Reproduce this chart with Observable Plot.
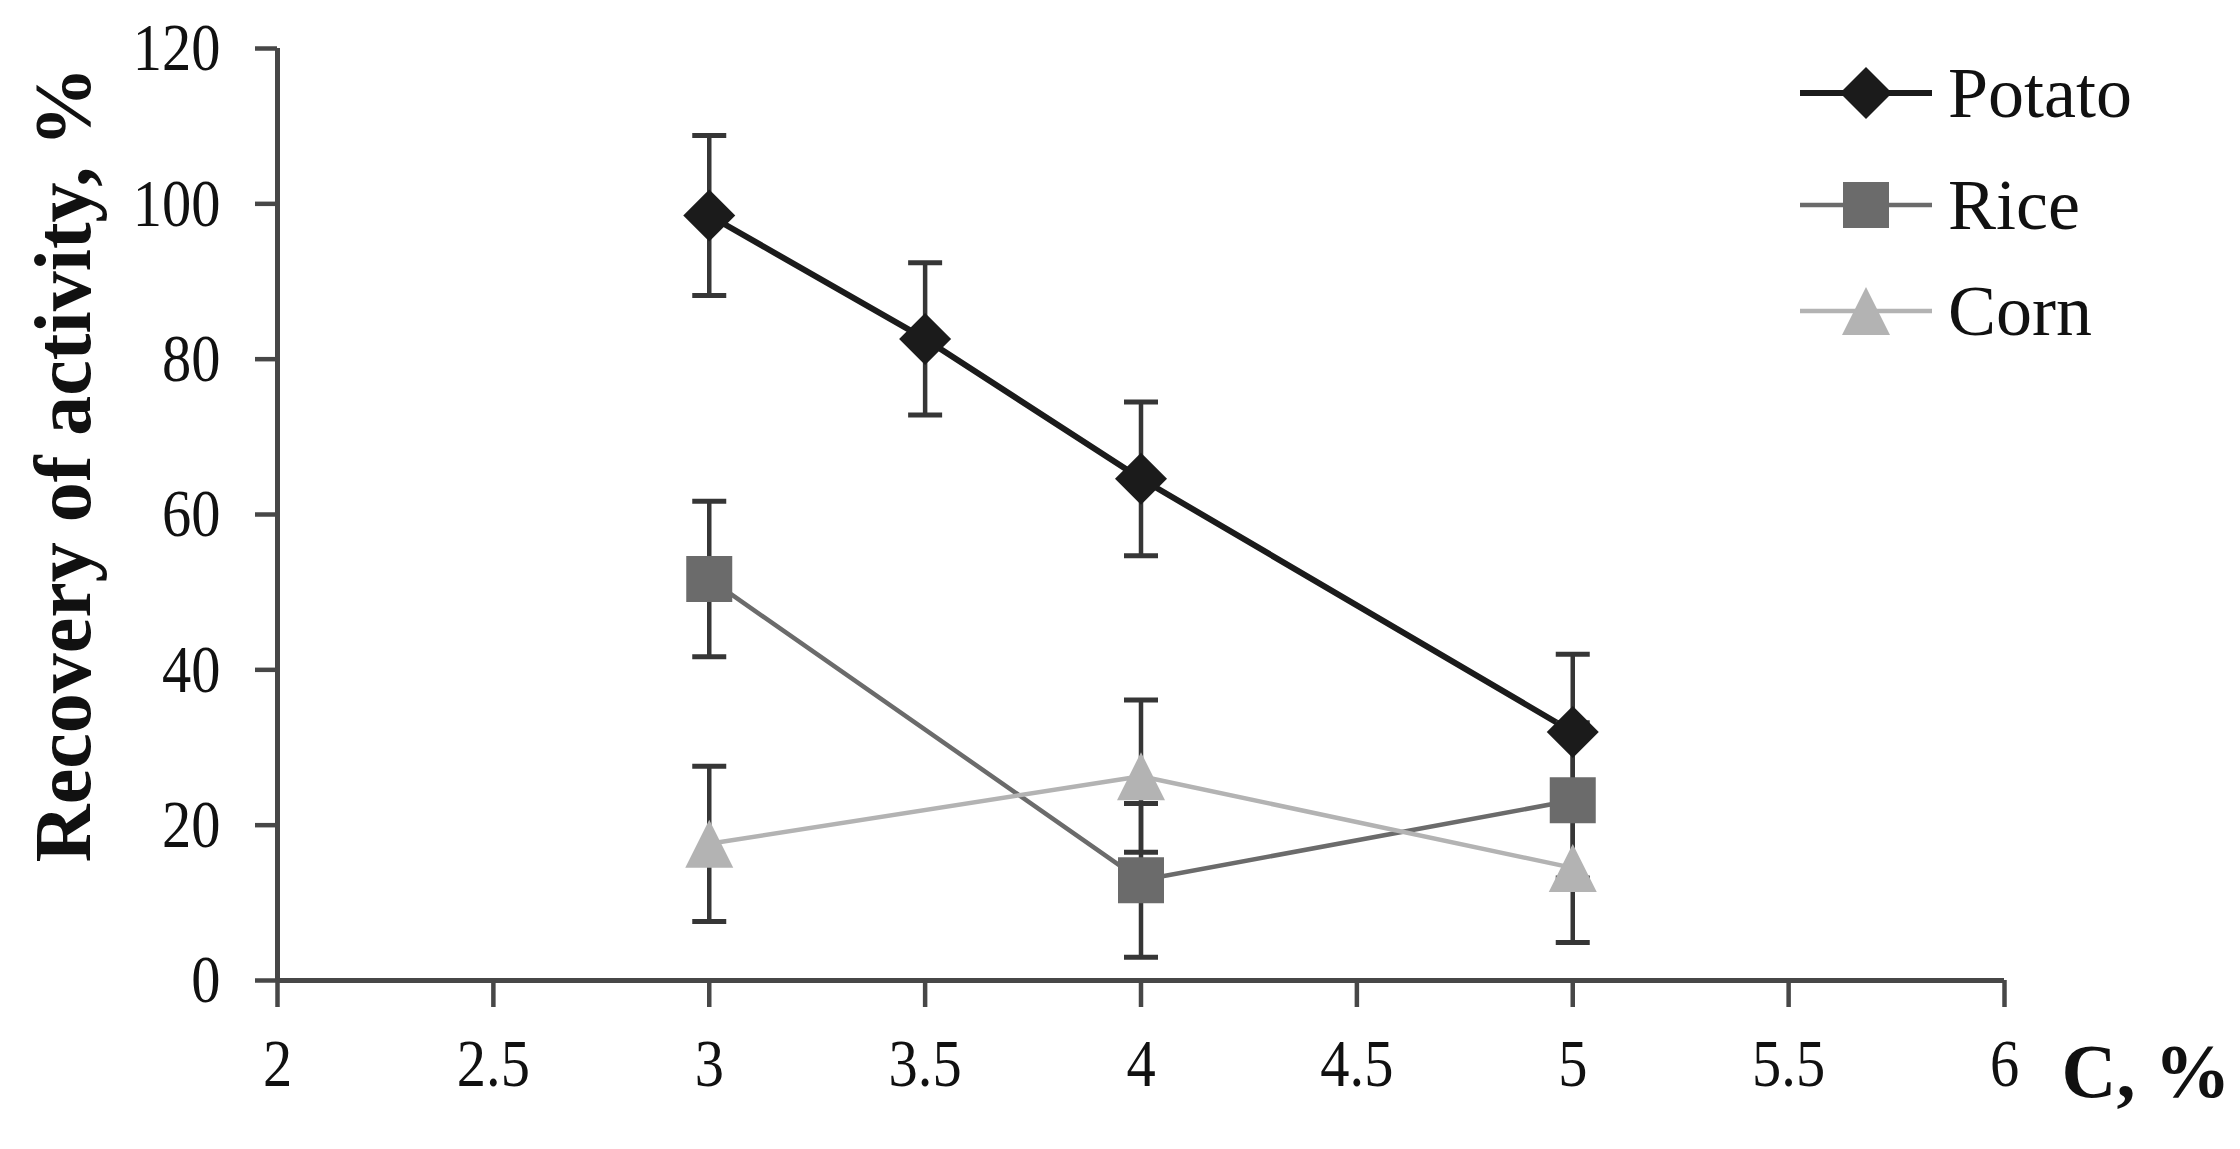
<!DOCTYPE html>
<html>
<head>
<meta charset="utf-8">
<script src="https://cdn.jsdelivr.net/npm/d3@7"></script>
<script src="https://cdn.jsdelivr.net/npm/@observablehq/plot@0.6"></script>
<style>
  html, body { margin: 0; padding: 0; background: #fff; }
  #wrap { position: relative; width: 2240px; height: 1149px; overflow: hidden; }
  #legend { position: absolutely; position: absolute; left: 1800px; top: 43px; font-family: "Liberation Serif", serif; font-size: 72px; color: #111; }
  .lg-row { position: absolute; left: 0; height: 100px; display: flex; align-items: center; white-space: nowrap; }
  .lg-row svg { display: block; }
  .lg-row span { margin-left: 14px; line-height: 1; }
</style>
</head>
<body>
<div id="wrap">
  <div id="chart"></div>
  <div id="legend"></div>
</div>
<script>
// ---- data ----
const xTicks = [2, 2.5, 3, 3.5, 4, 4.5, 5, 5.5, 6];
const yTicks = [0, 20, 40, 60, 80, 100, 120];
const xLabel = "C, %";
const yLabel = "Recovery of activity, %";

const seriesNames = ["Potato", "Rice", "Corn"];
const seriesColors = ["#1b1b1b", "#6b6b6b", "#b3b3b3"];
const seriesWidths = [6, 4.5, 4.5];
const seriesSymbols = ["diamond", "square", "triangle"];

const potatoC = [3, 3.5, 4, 5];
const potatoVal = [98.5, 82.6, 64.6, 32.0];
const potatoErr = [10.3, 9.8, 9.9, 10.0];

const riceC = [3, 4, 5];
const riceVal = [51.7, 12.9, 23.2];
const riceErr = [10.0, 9.9, 10.0];

const cornC = [3, 4, 5];
const cornVal = [17.6, 26.3, 14.5];
const cornErr = [10.0, 9.8, 9.6];

// ---- build tables ----
function rowsFor(name, cs, vs, es) {
  return cs.map((c, i) => ({series: name, c, v: vs[i], e: es[i]}));
}
const seriesRows = [
  rowsFor("Potato", potatoC, potatoVal, potatoErr),
  rowsFor("Rice", riceC, riceVal, riceErr),
  rowsFor("Corn", cornC, cornVal, cornErr)
];
const allRows = seriesRows.flat();

// ---- custom symbols ----
const symbolDefs = {
  diamond: {draw(ctx, size) { const h = Math.sqrt(size / Math.PI); ctx.moveTo(0, -h); ctx.lineTo(h, 0); ctx.lineTo(0, h); ctx.lineTo(-h, 0); ctx.closePath(); }},
  square: {draw(ctx, size) { const h = Math.sqrt(size / Math.PI); ctx.rect(-h, -h, 2 * h, 2 * h); }},
  triangle: {draw(ctx, size) { const h = Math.sqrt(size / Math.PI); ctx.moveTo(0, -h); ctx.lineTo(h, h); ctx.lineTo(-h, h); ctx.closePath(); }},
  cap: {draw(ctx, size) { const h = Math.sqrt(size / Math.PI); ctx.moveTo(-h, 0); ctx.lineTo(h, 0); }}
};
const markerR = {diamond: 26, square: 23, triangle: 24};

const axisColor = "#474747";
const errColor = "#363636";

const marks = [
  Plot.ruleY([0], {stroke: axisColor, strokeWidth: 5}),
  Plot.ruleX([2], {stroke: axisColor, strokeWidth: 5}),
  Plot.axisX({ticks: xTicks, tickFormat: d => String(d), tickSize: 27, tickPadding: 30, stroke: axisColor, strokeWidth: 4.5, fontSize: 68, fill: "#111", label: null}),
  Plot.axisY({ticks: yTicks, tickFormat: d => String(d), tickSize: 22, tickPadding: 35, stroke: axisColor, strokeWidth: 4.5, fontSize: 68, fill: "#111", label: null})
];

seriesRows.forEach((rows, i) => {
  marks.push(Plot.line(rows, {x: "c", y: "v", stroke: seriesColors[i], strokeWidth: seriesWidths[i]}));
});

marks.push(Plot.ruleX(allRows, {x: "c", y1: d => d.v - d.e, y2: d => d.v + d.e, stroke: errColor, strokeWidth: 4.5}));
marks.push(Plot.dot(allRows, {x: "c", y: d => d.v + d.e, symbol: symbolDefs.cap, r: 17, stroke: errColor, strokeWidth: 5, fill: "none"}));
marks.push(Plot.dot(allRows, {x: "c", y: d => d.v - d.e, symbol: symbolDefs.cap, r: 17, stroke: errColor, strokeWidth: 5, fill: "none"}));

seriesRows.forEach((rows, i) => {
  const s = seriesSymbols[i];
  marks.push(Plot.dot(rows, {x: "c", y: "v", symbol: symbolDefs[s], r: markerR[s], fill: seriesColors[i], stroke: "none"}));
});

marks.push(Plot.text([yLabel], {text: d => d, frameAnchor: "left", textAnchor: "middle", rotate: -90, dx: -213, dy: -50, fontSize: 80, fontWeight: "bold", fill: "#111"}));
marks.push(Plot.text([xLabel], {text: d => d, frameAnchor: "bottom-right", textAnchor: "start", dx: 57, dy: 116, fontSize: 76, fontWeight: "bold", fill: "#111"}));

const chart = Plot.plot({
  width: 2240,
  height: 1149,
  marginLeft: 277,
  marginRight: 236,
  marginTop: 48,
  marginBottom: 169,
  x: {domain: [2, 6]},
  y: {domain: [0, 120]},
  style: {fontFamily: "'Liberation Serif', 'Times New Roman', serif", background: "#fff", color: "#111", overflow: "visible"},
  marks
});
document.getElementById("chart").appendChild(chart);

// condense tick labels like the original
chart.querySelectorAll('g[aria-label="x-axis tick label"] text, g[aria-label="y-axis tick label"] text').forEach(t => {
  const tr = t.getAttribute("transform") || "";
  t.setAttribute("transform", tr + " scale(0.86,1)");
});

// ---- legend ----
const legend = document.getElementById("legend");
const legendTops = [0, 112, 218];
seriesNames.forEach((name, i) => {
  const row = document.createElement("div");
  row.className = "lg-row";
  row.style.top = legendTops[i] + "px";
  const s = seriesSymbols[i];
  const svg = d3.create("svg").attr("width", 134).attr("height", 100);
  svg.append("line").attr("x1", 0).attr("x2", 132).attr("y1", 50).attr("y2", 50)
    .attr("stroke", seriesColors[i]).attr("stroke-width", seriesWidths[i]);
  const r = markerR[s];
  svg.append("path").attr("transform", "translate(66,50)")
    .attr("d", d3.symbol(symbolDefs[s], Math.PI * r * r)())
    .attr("fill", seriesColors[i]);
  row.appendChild(svg.node());
  const span = document.createElement("span");
  span.textContent = name;
  row.appendChild(span);
  legend.appendChild(row);
});
</script>
</body>
</html>
